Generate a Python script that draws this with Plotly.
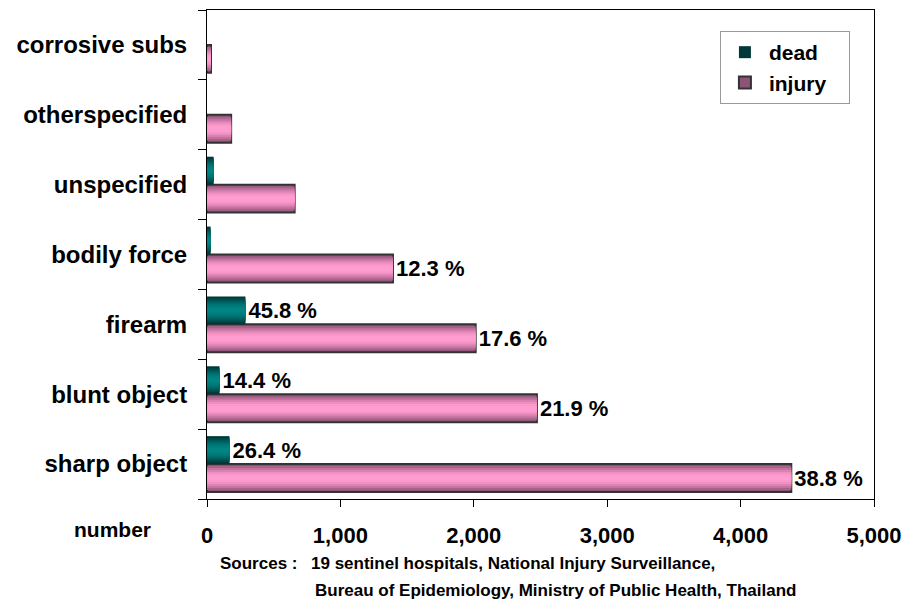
import plotly.graph_objects as go

categories = ["sharp object", "blunt object", "firearm", "bodily force",
              "unspecified", "otherspecified", "corrosive subs"]
dead_values = [169, 94, 288, 27, 50, 0, 0]
injury_values = [4380, 2473, 2014, 1394, 657, 181, 30]
dead_labels = ["26.4 %", "14.4 %", "45.8 %", "", "", "", ""]
injury_labels = ["38.8 %", "21.9 %", "17.6 %", "12.3 %", "", "", ""]
x_ticks = [0, 1000, 2000, 3000, 4000, 5000]

FONT = "Liberation Sans, Arial, sans-serif"

# gradient layers (outer -> inner) to mimic the shaded 3-D bars
pink_layers = ["#8e5478", "#a8638b", "#c2739e", "#da82b1", "#ee90c2", "#fb99cb", "#ff9dd0"]
teal_layers = ["#003838", "#004a4a", "#005a5a", "#006a6a", "#007676", "#007e7e", "#008484"]
fracs = [1.0, 0.86, 0.72, 0.58, 0.44, 0.30, 0.16]
slot = 0.4  # bar thickness in category units (bargap 0.2, two bars)

fig = go.Figure()


def add_series(name, values, labels, colors, center, rank, outline):
    for i, (c, f) in enumerate(zip(colors, fracs)):
        w = slot * f
        first = i == 0
        fig.add_trace(go.Bar(
            y=categories, x=values, orientation="h",
            name=name, legendgroup=name, showlegend=first, legendrank=rank,
            width=w, offset=center - w / 2,
            marker=dict(color=c,
                        line=dict(color="#333333", width=2 if (first and outline) else 0)),
            text=labels if first else None,
            textposition="outside" if first else "none",
            textfont=dict(family=FONT, size=22, color="black", weight="bold"),
            constraintext="none", cliponaxis=False,
            hoverinfo="x+y+name" if first else "skip",
        ))


add_series("injury\u00a0\u00a0\u00a0", injury_values, injury_labels, pink_layers, -slot / 2, 2, True)
add_series("dead", dead_values, dead_labels, teal_layers, slot / 2, 1, False)

fig.update_layout(
    width=911, height=604,
    margin=dict(l=207, r=32, t=9, b=105),
    barmode="overlay",
    plot_bgcolor="white", paper_bgcolor="white",
    font=dict(family=FONT, size=21, color="black", weight="bold"),
    legend=dict(x=0.769, y=0.957, xanchor="left", yanchor="top",
                bgcolor="white", bordercolor="#999999", borderwidth=1,
                font=dict(family=FONT, size=21, color="black", weight="bold"),
                tracegroupgap=0, itemwidth=38),
    showlegend=True,
)

fig.update_xaxes(
    range=[0, 5000], tickvals=x_ticks, tickformat=",",
    ticks="outside", ticklen=7, tickcolor="black",
    showline=True, linecolor="black", linewidth=1, mirror=True,
    showgrid=False, zeroline=False,
    tickfont=dict(family=FONT, size=22, color="black", weight="bold"),
    ticklabelstandoff=10,
)
fig.update_yaxes(
    type="category", categoryorder="array", categoryarray=categories,
    ticks="outside", ticklen=8, tickcolor="black", tickson="boundaries",
    showline=True, linecolor="black", linewidth=1, mirror=True,
    showgrid=False, zeroline=False,
    tickfont=dict(family=FONT, size=24, color="black", weight="bold"),
    ticklabelstandoff=14,
)

fig.add_annotation(text="number", xref="paper", yref="paper",
                   x=-0.141, y=-0.063, xanchor="center", yanchor="middle",
                   showarrow=False,
                   font=dict(family=FONT, size=21, color="black", weight="bold"))
fig.add_annotation(text="Sources :", xref="paper", yref="paper",
                   x=0.0164, y=-0.131, xanchor="left", yanchor="middle",
                   showarrow=False,
                   font=dict(family=FONT, size=17, color="black", weight="bold"))
fig.add_annotation(text="19 sentinel hospitals, National Injury Surveillance,",
                   xref="paper", yref="paper",
                   x=0.1533, y=-0.131, xanchor="left", yanchor="middle",
                   showarrow=False,
                   font=dict(family=FONT, size=17, color="black", weight="bold"))
fig.add_annotation(text="Bureau of Epidemiology, Ministry of Public Health, Thailand",
                   xref="paper", yref="paper",
                   x=0.159, y=-0.188, xanchor="left", yanchor="middle",
                   showarrow=False,
                   font=dict(family=FONT, size=17, color="black", weight="bold"))

fig.write_html("out.html",
               config={"displayModeBar": False},
               post_script="document.body.style.margin='0';"
                           "document.body.style.overflow='hidden';")
